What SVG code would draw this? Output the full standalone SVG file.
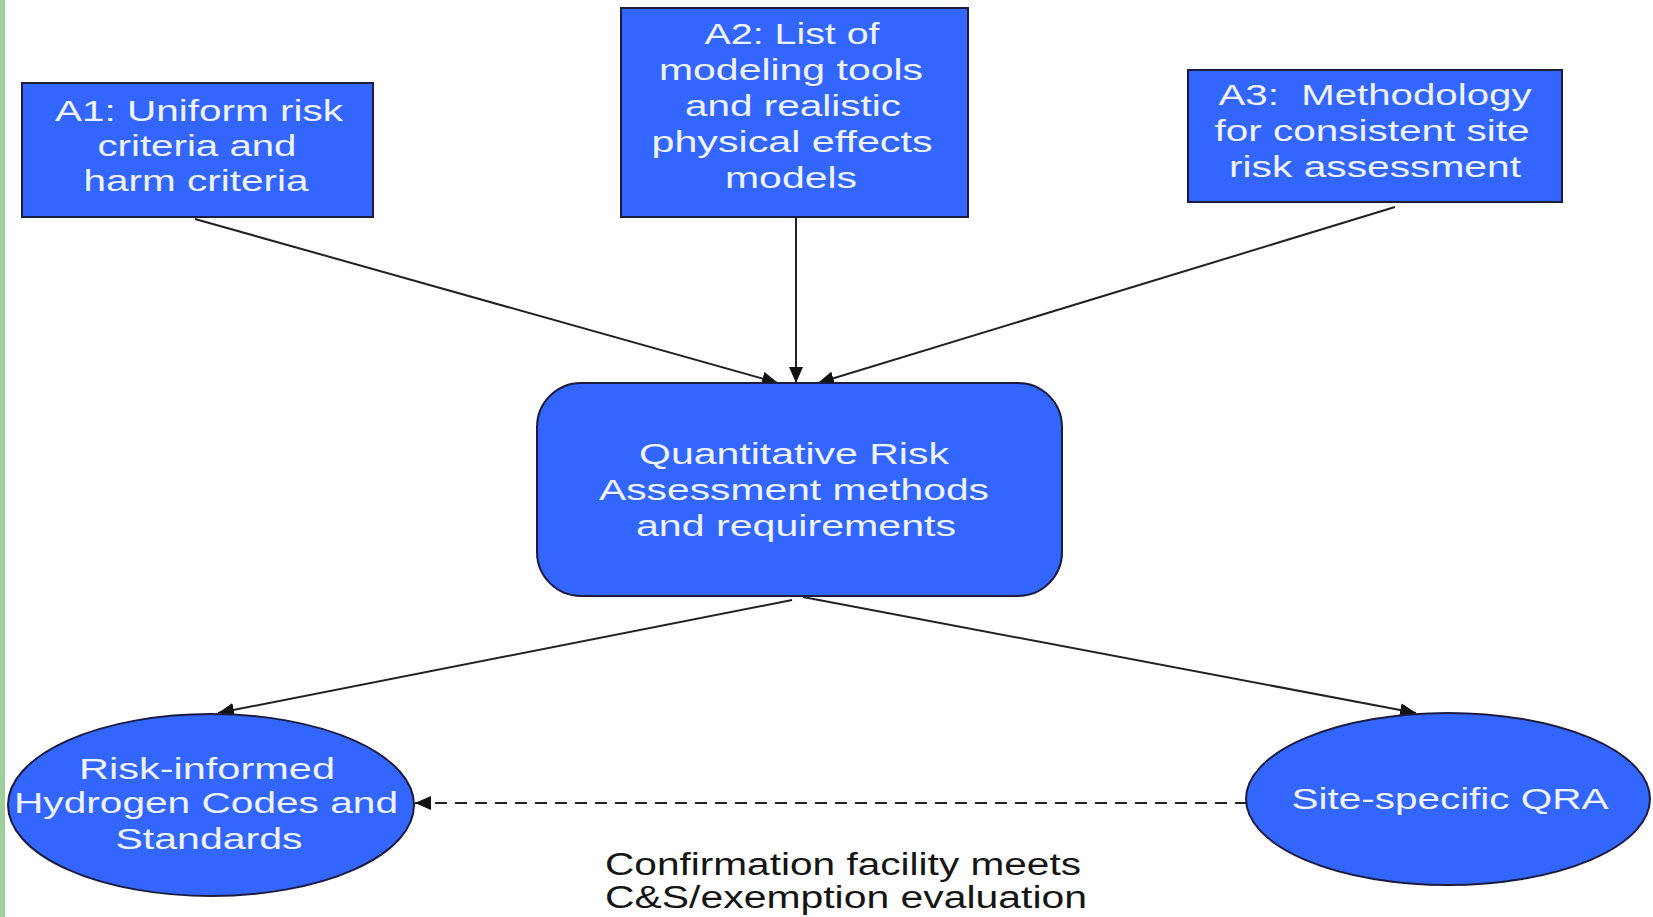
<svg xmlns="http://www.w3.org/2000/svg" width="1653" height="917" viewBox="0 0 1653 917">
<style>
.node{fill:#3366ff;stroke:#1c1c40;stroke-width:2}
.lbl{font-family:"Liberation Sans",Arial,sans-serif;font-size:30px;fill:#eef3ff;text-anchor:middle}
.cap{font-family:"Liberation Sans",Arial,sans-serif;font-size:31px;fill:#151515}
.edge{stroke:#222;stroke-width:2;fill:none}
.dash{stroke-dasharray:12 8}
</style>
<defs>
<marker id="ah" viewBox="0 0 16 14" refX="16" refY="7" markerWidth="16" markerHeight="14" markerUnits="userSpaceOnUse" orient="auto">
<path d="M0,0 L16,7 L0,14 Z" fill="#111"/>
</marker>
</defs>
<rect x="0" y="0" width="1653" height="917" fill="#ffffff"/>
<rect x="0" y="0" width="5" height="917" fill="#9fcf9a"/>
<g id="connectors">
<line class="edge" x1="195" y1="219" x2="778" y2="383" marker-end="url(#ah)"/>
<line class="edge" x1="796" y1="217" x2="796" y2="383" marker-end="url(#ah)"/>
<line class="edge" x1="1395" y1="207" x2="818" y2="383" marker-end="url(#ah)"/>
<line class="edge" x1="792" y1="600" x2="218" y2="713" marker-end="url(#ah)"/>
<line class="edge" x1="803" y1="597" x2="1416" y2="713" marker-end="url(#ah)"/>
<line class="edge dash" x1="1247" y1="803" x2="415" y2="803" marker-end="url(#ah)"/>
</g>
<g id="A1">
<rect class="node" x="22" y="83" width="351" height="134"/>
<text class="lbl" x="199" y="121" textLength="288" lengthAdjust="spacingAndGlyphs">A1: Uniform risk</text>
<text class="lbl" x="197" y="156" textLength="199" lengthAdjust="spacingAndGlyphs">criteria and</text>
<text class="lbl" x="196" y="191" textLength="225" lengthAdjust="spacingAndGlyphs">harm criteria</text>
</g>
<g id="A2">
<rect class="node" x="621" y="8" width="347" height="209"/>
<text class="lbl" x="792" y="44" textLength="175" lengthAdjust="spacingAndGlyphs">A2: List of</text>
<text class="lbl" x="791" y="80" textLength="264" lengthAdjust="spacingAndGlyphs">modeling tools</text>
<text class="lbl" x="793" y="116" textLength="216" lengthAdjust="spacingAndGlyphs">and realistic</text>
<text class="lbl" x="792" y="152" textLength="281" lengthAdjust="spacingAndGlyphs">physical effects</text>
<text class="lbl" x="791" y="188" textLength="132" lengthAdjust="spacingAndGlyphs">models</text>
</g>
<g id="A3">
<rect class="node" x="1188" y="70" width="374" height="132"/>
<text class="lbl" x="1375" y="105" textLength="313" lengthAdjust="spacingAndGlyphs" xml:space="preserve">A3:  Methodology</text>
<text class="lbl" x="1372" y="141" textLength="315" lengthAdjust="spacingAndGlyphs">for consistent site</text>
<text class="lbl" x="1375" y="177" textLength="292" lengthAdjust="spacingAndGlyphs">risk assessment</text>
</g>
<g id="QRA">
<rect class="node" x="537" y="383" width="525" height="213" rx="44" ry="44"/>
<text class="lbl" x="794" y="464" textLength="310" lengthAdjust="spacingAndGlyphs">Quantitative Risk</text>
<text class="lbl" x="794" y="500" textLength="390" lengthAdjust="spacingAndGlyphs">Assessment methods</text>
<text class="lbl" x="796" y="536" textLength="320" lengthAdjust="spacingAndGlyphs">and requirements</text>
</g>
<g id="codes">
<ellipse class="node" cx="211" cy="805" rx="203" ry="91"/>
<text class="lbl" x="207" y="779" textLength="256" lengthAdjust="spacingAndGlyphs">Risk-informed</text>
<text class="lbl" x="206" y="813" textLength="384" lengthAdjust="spacingAndGlyphs">Hydrogen Codes and</text>
<text class="lbl" x="209" y="849" textLength="187" lengthAdjust="spacingAndGlyphs">Standards</text>
</g>
<g id="site">
<ellipse class="node" cx="1448" cy="799" rx="202" ry="86"/>
<text class="lbl" x="1450" y="809" textLength="317" lengthAdjust="spacingAndGlyphs">Site-specific QRA</text>
</g>
<g id="caption">
<text class="cap" x="605" y="875" textLength="476" lengthAdjust="spacingAndGlyphs">Confirmation facility meets</text>
<text class="cap" x="605" y="908" textLength="482" lengthAdjust="spacingAndGlyphs">C&amp;S/exemption evaluation</text>
</g>
</svg>
